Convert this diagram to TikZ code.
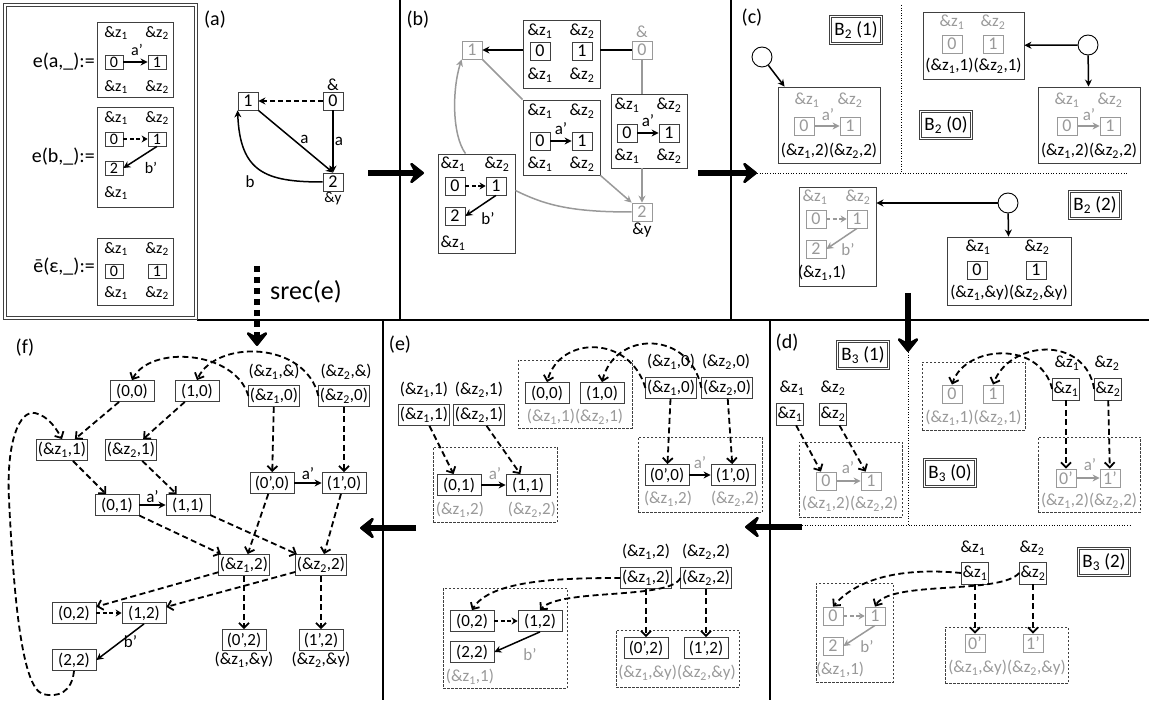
\documentclass[tikz,border=0pt]{standalone}
\usepackage{fontspec}
\setmainfont{Carlito}
\usetikzlibrary{positioning, arrows.meta, calc}

\definecolor{lgray}{gray}{0.6}
\definecolor{bgray}{gray}{0.25}
\newcommand{\zone}{\&z\textsubscript{1}}
\newcommand{\ztwo}{\&z\textsubscript{2}}

\begin{document}
\begin{tikzpicture}[x=1pt, y=-1pt,
    every node/.style={font=\fontsize{17}{19}\selectfont, inner sep=1pt},
    sm/.style={font=\fontsize{16}{18}\selectfont},
    gl/.style={text=lgray},
    panel/.style={font=\fontsize{20}{22}\selectfont},
    nbox/.style={draw=bgray, line width=0.8pt, inner sep=1pt, minimum width=20pt, minimum height=18pt, font=\fontsize{18}{18}\selectfont},
    snbox/.style={nbox, minimum width=18pt, minimum height=14pt, font=\fontsize{16}{16}\selectfont},
    gbox/.style={nbox, draw=lgray, text=lgray},
    zbox/.style={nbox, minimum height=22pt, font=\fontsize{17}{19}\selectfont},
    pbox/.style={draw=bgray, line width=0.8pt, inner sep=1.2pt, minimum width=44pt, minimum height=21pt, font=\fontsize{17}{19}\selectfont},
    fbox/.style={draw=bgray, line width=0.9pt, inner sep=0pt},
    grp/.style={draw=bgray, line width=0.6pt, dash pattern=on 2.5pt off 1.5pt, inner sep=0pt},
    bname/.style={draw=bgray, line width=0.9pt, double=white, double distance=1.5pt,
      inner xsep=4pt, inner ysep=5pt, font=\fontsize{19}{21}\selectfont},
    knob/.style={circle, draw=black, line width=0.9pt, minimum size=20pt, inner sep=0pt},
    sep/.style={line width=2.6pt},
    split/.style={line width=0.6pt, dotted},
    arr/.style={-{Stealth[length=7pt,width=7pt]}, line width=1.5pt},
    garr/.style={arr, draw=lgray},
    dsh/.style={-{Stealth[length=6pt,width=7pt]}, line width=1.5pt, dash pattern=on 4pt off 2.5pt},
    darr/.style={-{Straight Barb[length=5pt,width=10pt]}, line width=1.8pt, dash pattern=on 6pt off 3.5pt},
    bigarrow/.style={line width=6.5pt, -{Stealth[length=17pt,width=27pt,inset=7pt,round]}}
  ]
  \useasboundingbox (0,0) rectangle (1149,708);

  % panel frame
  \draw[sep] (400,0) -- (400,320);
  \draw[sep] (731,0) -- (731,320);
  \draw[sep] (197,320) -- (1149,320);
  \draw[sep] (383,320) -- (383,700);
  \draw[sep] (770,320) -- (770,700);
  \draw[draw=bgray, line width=0.9pt, double, double distance=2pt] (5,5) rectangle (196,318);

  \draw[bigarrow] (368,173) -- (424,173);
  \draw[bigarrow] (698,173) -- (757,173);
  \draw[bigarrow] (908,293) -- (908,352);
  \draw[bigarrow] (802,527) -- (745,527);
  \draw[bigarrow] (416,528) -- (360,528);
  \draw[bigarrow, dash pattern=on 6pt off 5pt] (257,266) -- (257,346);
  \node[font=\fontsize{26}{28}\selectfont] (srec) at (306,292) {srec(e)};

  % (a) definitions
  \node[panel, anchor=east] (la) at (96,62) {e(a,\_):=};
  \node[panel, anchor=east] (lb) at (96,157) {e(b,\_):=};
  \node[panel, anchor=east] (le) at (96,267) {ē(ε,\_):=};

  \node[fbox, minimum width=76pt, minimum height=75pt] (ea) at (135,59.5) {};
  \node[sm] (ea1t) at (116,33) {\zone};
  \node[sm] (ea2t) at (157,33) {\ztwo};
  \node[snbox] (ea0) at (114,62) {0};
  \node[snbox] (ea1) at (157,62) {1};
  \draw[arr] (ea0) -- (ea1);
  \node[sm] (eaa) at (137,50) {a'};
  \node[sm] (ea1b) at (116,87) {\zone};
  \node[sm] (ea2b) at (157,87) {\ztwo};

  \node[fbox, minimum width=76pt, minimum height=100pt] (eb) at (135,157) {};
  \node[sm] (eb1t) at (116,118) {\zone};
  \node[sm] (eb2t) at (157,118) {\ztwo};
  \node[snbox] (eb0) at (114,139) {0};
  \node[snbox] (eb1) at (157,139) {1};
  \draw[dsh] (eb0) -- (eb1);
  \node[snbox] (eb2) at (114,168) {2};
  \draw[arr] (eb1.south) -- (eb2.east);
  \node[sm] (ebb) at (151,168) {b'};
  \node[sm] (eb1b) at (116,193) {\zone};

  \node[fbox, minimum width=76pt, minimum height=67pt] (ee) at (135,271.5) {};
  \node[sm] (ee1t) at (116,249) {\zone};
  \node[sm] (ee2t) at (157,249) {\ztwo};
  \node[snbox] (ee0) at (114,271) {0};
  \node[snbox] (ee1) at (157,271) {1};
  \node[sm] (ee1b) at (116,293) {\zone};
  \node[sm] (ee2b) at (157,293) {\ztwo};

  % (a) graph
  \node[panel] (pa) at (215,20) {(a)};
  \node[nbox] (a1) at (248,101) {1};
  \node[nbox] (a0) at (333,101) {0};
  \node[nbox] (a2) at (333,182) {2};
  \node[above=0pt of a0] (a0l) {\&};
  \node[below=0pt of a2, font=\fontsize{15}{17}\selectfont] (a2l) {\&y};
  \draw[arr, dash pattern=on 5pt off 3pt] (a0) -- (a1);
  \draw[arr] (a1.south east) -- node[pos=0.55, above right=-1pt] (lab1) {a} (a2.north);
  \draw[arr] (a0) -- node[right] (lab2) {a} (a2);
  \draw[arr] (a2.west) .. controls (265,182) and (240,172) .. (a1.south west);
  \node (lab3) at (250,182) {b};

  % (b)
  \node[panel] (pb) at (418,20) {(b)};
  \node[gbox] (b1) at (472,50) {1};
  \node[gbox] (b0) at (642,50) {0};
  \node[gl, above=2pt of b0] (b0l) {\&};
  \node[gbox] (b2) at (642,212) {2};
  \node[below=0pt of b2] (b2l) {\&y};

  \node[fbox, minimum width=77pt, minimum height=68pt] (bt) at (561.5,54) {};
  \node (bt1t) at (540,31) {\zone};
  \node (bt2t) at (582,31) {\ztwo};
  \node[nbox] (bt0) at (540,51) {0};
  \node[nbox] (bt1) at (582,51) {1};
  \node (bt1b) at (540,75) {\zone};
  \node (bt2b) at (582,75) {\ztwo};

  \node[fbox, minimum width=76pt, minimum height=74pt] (br) at (649,131) {};
  \node (br1t) at (627,105) {\zone};
  \node (br2t) at (669,105) {\ztwo};
  \node[nbox] (br0) at (627,133) {0};
  \node[nbox] (br1) at (669,133) {1};
  \draw[arr] (br0) -- (br1);
  \node (bra) at (648,121) {a'};
  \node (br1b) at (627,156) {\zone};
  \node (br2b) at (669,156) {\ztwo};

  \node[fbox, minimum width=77pt, minimum height=75pt] (bm) at (561.5,137.5) {};
  \node (bm1t) at (540,111) {\zone};
  \node (bm2t) at (582,111) {\ztwo};
  \node[nbox] (bm0) at (540,141) {0};
  \node[nbox] (bm1) at (582,141) {1};
  \draw[arr] (bm0) -- (bm1);
  \node (bma) at (561,129) {a'};
  \node (bm1b) at (540,164) {\zone};
  \node (bm2b) at (582,164) {\ztwo};

  \node[fbox, minimum width=77pt, minimum height=99pt] (bl) at (476.5,203.5) {};
  \node (bl1t) at (453,164) {\zone};
  \node (bl2t) at (497,164) {\ztwo};
  \node[nbox] (bl0) at (455,186) {0};
  \node[nbox] (bl1) at (496,186) {1};
  \draw[dsh] (bl0) -- (bl1);
  \node[nbox] (bl2) at (455,216) {2};
  \draw[arr] (bl1.south) -- (bl2.east);
  \node (blb) at (488,219) {b'};
  \node (bl1b) at (453,243) {\zone};

  \draw[arr] (bt.west |- b1) -- (b1);
  \draw[line width=1.5pt] (b0) -- (bt.east |- b0);
  \draw[lgray, line width=1.5pt] (b0) -- (b0 |- br.north);
  \draw[garr] (b0 |- br.south) -- (b2);
  \draw[lgray, line width=1.5pt] (b1.south east) -- (bm.north west);
  \draw[garr] (bm.south east) -- (b2.north west);
  \draw[garr] ($(bl.north)+(-11,0)$) .. controls (452,135) and (452,90) .. (b1.south west);
  \draw[lgray, line width=1.5pt] (b2.west) .. controls (570,212) and (545,205) .. ($(bl.east)+(0,-13)$);

  % (c)
  \node[panel] (pc) at (752,18) {(c)};
  \draw[split] (901,5) -- (901,173);
  \draw[split] (757,173) -- (1128,173);
  \node[bname] (B21) at (856,30) {B\textsubscript{2} (1)};
  \node[bname] (B20) at (946,125) {B\textsubscript{2} (0)};
  \node[bname] (B22) at (1095,205) {B\textsubscript{2} (2)};

  \node[knob] (k1) at (762,57) {};
  \node[fbox, minimum width=102pt, minimum height=76pt] (c1) at (829,125) {};
  \draw[arr] (k1) -- ($(c1.north west)+(7,0)$);
  \node[gl] (c11t) at (807,100) {\zone};
  \node[gl] (c12t) at (850,100) {\ztwo};
  \node[gbox] (c10) at (804,126) {0};
  \node[gbox] (c11) at (850,126) {1};
  \draw[garr] (c10) -- (c11);
  \node[gl] (c1a) at (828,115) {a'};
  \node (c1l) at (829,151) {(\zone,2)(\ztwo,2)};

  \node[fbox, minimum width=101pt, minimum height=67pt] (c0a) at (973.5,45.5) {};
  \node[gl] (c0a1t) at (952,22) {\zone};
  \node[gl] (c0a2t) at (993,22) {\ztwo};
  \node[gbox] (c0a0) at (952,44) {0};
  \node[gbox] (c0a1) at (993,44) {1};
  \node (c0al) at (973.5,66) {(\zone,1)(\ztwo,1)};
  \node[knob] (k0) at (1088,45) {};
  \node[fbox, minimum width=102pt, minimum height=76pt] (c0b) at (1089,125) {};
  \draw[arr] (k0) -- (c0a);
  \draw[arr] (k0) -- (c0b);
  \node[gl] (c0b1t) at (1067,100) {\zone};
  \node[gl] (c0b2t) at (1110,100) {\ztwo};
  \node[gbox] (c0b0) at (1067,126) {0};
  \node[gbox] (c0b1) at (1110,126) {1};
  \draw[garr] (c0b0) -- (c0b1);
  \node[gl] (c0ba) at (1089,115) {a'};
  \node (c0bl) at (1089,151) {(\zone,2)(\ztwo,2)};

  \node[fbox, minimum width=77pt, minimum height=99pt] (c2a) at (837.5,236.5) {};
  \node[gl] (c2a1t) at (815,197) {\zone};
  \node[gl] (c2a2t) at (858,197) {\ztwo};
  \node[gbox] (c2a0) at (816,219) {0};
  \node[gbox] (c2a1) at (857,219) {1};
  \draw[dsh, draw=lgray] (c2a0) -- (c2a1);
  \node[gbox] (c2a2) at (816,249) {2};
  \draw[garr] (c2a1.south) -- (c2a2.east);
  \node[gl] (c2ab) at (848,250) {b'};
  \node (c2al) at (822,273) {(\zone,1)};
  \node[knob] (k2) at (1008,203) {};
  \node[fbox, minimum width=124pt, minimum height=68pt] (c2b) at (1009,271) {};
  \draw[arr] (k2) -- (c2a.east |- k2);
  \draw[arr] (k2) -- (c2b);
  \node (c2b1t) at (978,247) {\zone};
  \node (c2b2t) at (1037,247) {\ztwo};
  \node[nbox] (c2b0) at (977,270) {0};
  \node[nbox] (c2b1) at (1036,270) {1};
  \node (c2bl) at (1009,293) {(\zone,\&y)(\ztwo,\&y)};

  % (d)
  \node[panel] (pd) at (787,343) {(d)};
  \node[bname] (B31) at (863,355) {B\textsubscript{3} (1)};
  \node[bname] (B30) at (950,473) {B\textsubscript{3} (0)};
  \node[bname] (B32) at (1104,562) {B\textsubscript{3} (2)};
  \draw[split] (908,352) -- (908,525);
  \draw[split] (802,525) -- (1130,525);

  \node (dl1) at (792,388) {\zone};
  \node (dl2) at (833,388) {\ztwo};
  \node[zbox] (dz1) at (790,414) {\zone};
  \node[zbox] (dz2) at (833,414) {\ztwo};
  \node[grp, minimum width=103pt, minimum height=75pt] (d1) at (850.5,479.5) {};
  \node[gbox] (d10) at (826,481) {0};
  \node[gbox] (d11) at (871,481) {1};
  \draw[garr] (d10) -- (d11);
  \node[gl] (d1a) at (848,468) {a'};
  \node[gl] (d1l) at (850,504) {(\zone,2)(\ztwo,2)};
  \draw[darr] (dz1) -- (d10);
  \draw[darr] (dz2) -- (d11);

  \node[grp, minimum width=103pt, minimum height=68pt] (d0a) at (973.5,396) {};
  \node[gbox] (d0a0) at (952,394) {0};
  \node[gbox] (d0a1) at (993,394) {1};
  \node[gl] (d0al) at (973.5,418) {(\zone,1)(\ztwo,1)};
  \node (el1) at (1067,363) {\zone};
  \node (el2) at (1107,363) {\ztwo};
  \node[zbox] (ez1) at (1066,389) {\zone};
  \node[zbox] (ez2) at (1108,389) {\ztwo};
  \draw[darr] (ez1.west) .. controls (1040,340) and (965,345) .. (d0a0.north);
  \draw[darr] (ez2.west) .. controls (1085,335) and (1010,340) .. (d0a1.north);
  \node[grp, minimum width=102pt, minimum height=75pt] (d0b) at (1089,474.5) {};
  \node[gbox] (d0b0) at (1066,478) {0'};
  \node[gbox] (d0b1) at (1110,478) {1'};
  \draw[garr] (d0b0) -- (d0b1);
  \node[gl] (d0ba) at (1090,465) {a'};
  \node[gl] (d0bl) at (1089,501) {(\zone,2)(\ztwo,2)};
  \draw[darr] (ez1) -- (d0b0);
  \draw[darr] (ez2) -- (d0b1);

  \node (fl1) at (973,548) {\zone};
  \node (fl2) at (1032,548) {\ztwo};
  \node[zbox] (fz1) at (975,573) {\zone};
  \node[zbox] (fz2) at (1033,573) {\ztwo};
  \node[grp, minimum width=77pt, minimum height=99pt] (d2a) at (854.5,632.5) {};
  \node[gbox] (d2a0) at (833,616) {0};
  \node[gbox] (d2a1) at (875,616) {1};
  \draw[dsh, draw=lgray] (d2a0) -- (d2a1);
  \node[gbox] (d2a2) at (833,646) {2};
  \draw[garr] (d2a1.south) -- (d2a2.east);
  \node[gl] (d2ab) at (867,647) {b'};
  \node[gl] (d2al) at (840,670) {(\zone,1)};
  \node[grp, minimum width=123pt, minimum height=56pt] (d2b) at (1006.5,655) {};
  \node[gbox] (d2b0) at (975,643) {0'};
  \node[gbox] (d2b1) at (1033,643) {1'};
  \node[gl] (d2bl) at (1007,668) {(\zone,\&y)(\ztwo,\&y)};
  \draw[darr] (fz1) -- (d2b0);
  \draw[darr] (fz2) -- (d2b1);
  \draw[darr] (fz1.west) .. controls (910,568) and (860,575) .. (d2a0.north);
  \draw[darr] (fz2.west) .. controls (1000,595) and (890,580) .. (d2a1.north);

  % (e)
  \node[panel] (pe) at (400,345) {(e)};
  \node (eq1) at (424,390) {(\zone,1)};
  \node (eq2) at (479,390) {(\ztwo,1)};
  \node[pbox] (ez11) at (424,415) {(\zone,1)};
  \node[pbox] (ez21) at (479,415) {(\ztwo,1)};
  \node[grp, minimum width=124pt, minimum height=75pt] (e1) at (495,484.5) {};
  \node[pbox] (e01) at (459,485) {(0,1)};
  \node[pbox] (e11) at (528,485) {(1,1)};
  \draw[arr] (e01) -- (e11);
  \node[gl] (e1a) at (495,474) {a'};
  \node[gl] (e1l1) at (460,510) {(\zone,2)};
  \node[gl] (e1l2) at (532,510) {(\ztwo,2)};
  \draw[darr] (ez11) -- (e01);
  \draw[darr] (ez21) -- (e11);

  \node[grp, minimum width=114pt, minimum height=68pt] (e0a) at (575,394) {};
  \node[pbox] (e00) at (547,393) {(0,0)};
  \node[pbox] (e10) at (602,393) {(1,0)};
  \node[gl] (e0al) at (575,417) {(\zone,1)(\ztwo,1)};
  \node (eq3) at (671,362) {(\zone,0)};
  \node (eq4) at (726,362) {(\ztwo,0)};
  \node[pbox] (ez10) at (671,388) {(\zone,0)};
  \node[pbox] (ez20) at (727,388) {(\ztwo,0)};
  \draw[darr] (ez10.west) .. controls (630,335) and (560,335) .. (e00.north);
  \draw[darr] (ez20.west) .. controls (690,330) and (615,330) .. (e10.north);
  \node[grp, minimum width=124pt, minimum height=75pt] (e0b) at (700,474.5) {};
  \node[pbox] (ep00) at (667,475) {(0',0)};
  \node[pbox] (ep10) at (733,475) {(1',0)};
  \draw[arr] (ep00) -- (ep10);
  \node[gl] (e0ba) at (700,463) {a'};
  \node[gl] (e0bl1) at (668,499) {(\zone,2)};
  \node[gl] (e0bl2) at (735,499) {(\ztwo,2)};
  \draw[darr] (ez10) -- (ep00);
  \draw[darr] (ez20) -- (ep10);

  \node (eq5) at (646,552) {(\zone,2)};
  \node (eq6) at (706,552) {(\ztwo,2)};
  \node[pbox] (ez12) at (646,578) {(\zone,2)};
  \node[pbox] (ez22) at (706,578) {(\ztwo,2)};
  \node[grp, minimum width=124pt, minimum height=100pt] (e2a) at (505,638) {};
  \node[pbox] (e02) at (472,621) {(0,2)};
  \node[pbox] (e12) at (540,621) {(1,2)};
  \draw[dsh] (e02) -- (e12);
  \node[pbox] (e22) at (472,652) {(2,2)};
  \draw[arr] (e12.south) -- (e22.east);
  \node[gl] (e2ab) at (530,655) {b'};
  \node[gl] (e2al) at (470,677) {(\zone,1)};
  \node[grp, minimum width=123pt, minimum height=57pt] (e2b) at (677.5,658.5) {};
  \node[pbox] (ep02) at (646,648) {(0',2)};
  \node[pbox] (ep12) at (706,648) {(1',2)};
  \node[gl] (e2bl) at (677,673) {(\zone,\&y)(\ztwo,\&y)};
  \draw[darr] (ez12) -- (ep02);
  \draw[darr] (ez22) -- (ep12);
  \draw[darr] (ez12.west) .. controls (560,578) and (490,580) .. (e02.north);
  \draw[darr] (ez22.west) .. controls (670,600) and (560,588) .. (e12.north);

  % (f)
  \node[panel] (pf) at (25,348) {(f)};
  \node[pbox] (f00) at (132,391) {(0,0)};
  \node[pbox] (f10) at (197,391) {(1,0)};
  \node (fq1) at (274,372) {(\zone,\&)};
  \node (fq2) at (346,372) {(\ztwo,\&)};
  \node[pbox] (fz10) at (274,396) {(\zone,0)};
  \node[pbox] (fz20) at (344,396) {(\ztwo,0)};
  \node[pbox] (fz11) at (62,450) {(\zone,1)};
  \node[pbox] (fz21) at (131,450) {(\ztwo,1)};
  \node[pbox] (fp00) at (272,483) {(0',0)};
  \node[pbox] (fp10) at (344,483) {(1',0)};
  \draw[arr] (fp00) -- node[above=2pt] (fa1) {a'} (fp10);
  \node[pbox] (f01) at (117,505) {(0,1)};
  \node[pbox] (f11) at (188,505) {(1,1)};
  \draw[arr] (f01) -- node[above=1pt] (fa2) {a'} (f11);
  \node[pbox] (fz12) at (244,565) {(\zone,2)};
  \node[pbox] (fz22) at (321,565) {(\ztwo,2)};
  \node[pbox] (f02) at (74,613) {(0,2)};
  \node[pbox] (f12) at (144,613) {(1,2)};
  \draw[dsh] (f02) -- (f12);
  \node[pbox] (f22) at (74,660) {(2,2)};
  \draw[arr] (f12.south) -- node[right=2pt] (fb) {b'} (f22.east);
  \node[pbox] (fp02) at (244,640) {(0',2)};
  \node[pbox] (fp12) at (321,640) {(1',2)};
  \node[below=0pt of fp02] (fq3) {(\zone,\&y)};
  \node[below=0pt of fp12] (fq4) {(\ztwo,\&y)};

  \draw[darr] (fz10.west) .. controls (235,350) and (150,345) .. (f00.north);
  \draw[darr] (fz20.west) .. controls (305,340) and (215,340) .. (f10.north);
  \draw[darr] (f00) -- (fz11);
  \draw[darr] (f10) -- (fz21);
  \draw[darr] (f22.south) .. controls (72,692) and (58,698) .. (43,694)
    .. controls (22,688) and (14,600) .. (9,500)
    .. controls (6,440) and (20,410) .. (35,413)
    .. controls (48,416) and (56,428) .. (fz11.north);
  \draw[darr] (fz11) -- (f01);
  \draw[darr] (fz21) -- (f11);
  \draw[darr] (fz10) -- (fp00);
  \draw[darr] (fz20) -- (fp10);
  \draw[darr] (fp00) -- (fz12);
  \draw[darr] (fp10) -- (fz22);
  \draw[darr] (f01) -- (fz12);
  \draw[darr] (f11) -- (fz22);
  \draw[darr] (fz12) -- (f02);
  \draw[darr] (fz22) -- (f12);
  \draw[darr] (fz12) -- (fp02);
  \draw[darr] (fz22) -- (fp12);
\end{tikzpicture}
\end{document}
